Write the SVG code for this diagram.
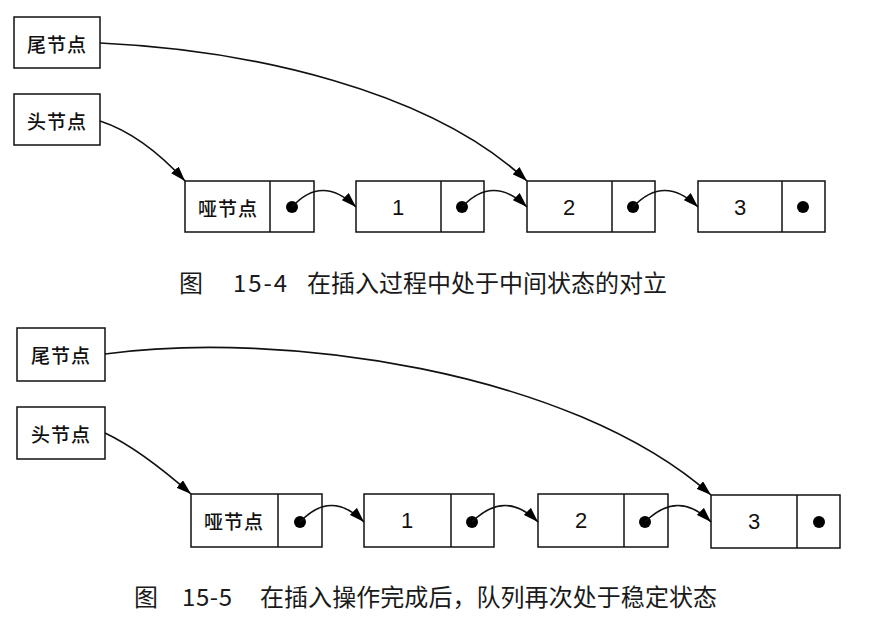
<svg xmlns="http://www.w3.org/2000/svg" width="883" height="624" viewBox="0 0 883 624">
<style>
.box{fill:#fff;stroke:#111;stroke-width:1.5}
.div{stroke:#111;stroke-width:1.5}
.lbl{font-family:"Noto Sans CJK SC","Noto Sans",sans-serif;font-size:19px;font-weight:500;fill:#111;text-anchor:middle;dominant-baseline:central;letter-spacing:1px}
.num{font-family:"Liberation Sans",Arial,sans-serif;font-size:22px;fill:#111;text-anchor:middle;dominant-baseline:central}
.dot{fill:#000}
.con{fill:none;stroke:#111;stroke-width:1.6}
.cap{font-family:"Noto Sans CJK SC","Noto Sans",sans-serif;font-size:24px;fill:#1a1a1a}
</style>
<defs>
<marker id="ah" markerUnits="userSpaceOnUse" markerWidth="15" markerHeight="10" refX="15" refY="5" orient="auto">
<path d="M0,0 L15,5 L0,10 z" fill="#000"/>
</marker>
</defs>
<rect width="883" height="624" fill="#fff"/>

<!-- Figure 15-4 -->
<g id="tail1"><rect class="box" x="14" y="17" width="86" height="51"/><text class="lbl" x="57" y="43">尾节点</text></g>
<g id="head1"><rect class="box" x="14" y="94" width="86" height="51"/><text class="lbl" x="57" y="120">头节点</text></g>
<g id="dummy1"><rect class="box" x="185" y="181" width="129" height="51"/><line class="div" x1="270" y1="181" x2="270" y2="232"/><text class="lbl" x="228" y="207">哑节点</text><circle class="dot" cx="292" cy="207" r="6"/></g>
<g id="n1a"><rect class="box" x="356" y="181" width="128" height="51"/><line class="div" x1="441" y1="181" x2="441" y2="232"/><text class="num" x="398" y="207">1</text><circle class="dot" cx="462" cy="207" r="6"/></g>
<g id="n2a"><rect class="box" x="527" y="181" width="128" height="51"/><line class="div" x1="612" y1="181" x2="612" y2="232"/><text class="num" x="569" y="207">2</text><circle class="dot" cx="633" cy="207" r="6"/></g>
<g id="n3a"><rect class="box" x="698" y="181" width="127" height="51"/><line class="div" x1="782" y1="181" x2="782" y2="232"/><text class="num" x="740" y="207">3</text><circle class="dot" cx="803" cy="207" r="6"/></g>
<g id="connectors1">
<path class="con" d="M100,43 C250,50 430,90 527,181" marker-end="url(#ah)"/>
<path class="con" d="M100,121 Q143,135 185,181" marker-end="url(#ah)"/>
<path class="con" d="M292,207 Q322,174 356,207" marker-end="url(#ah)"/>
<path class="con" d="M462,207 Q493,174 527,207" marker-end="url(#ah)"/>
<path class="con" d="M633,207 Q664,174 698,207" marker-end="url(#ah)"/>
</g>
<g id="caption1">
<text class="cap" x="179" y="292">图</text>
<text class="cap" x="233" y="292" textLength="54">15-4</text>
<text class="cap" x="307" y="292" textLength="360">在插入过程中处于中间状态的对立</text>
</g>

<!-- Figure 15-5 -->
<g id="tail2"><rect class="box" x="17" y="328" width="88" height="53"/><text class="lbl" x="61" y="354">尾节点</text></g>
<g id="head2"><rect class="box" x="17" y="407" width="88" height="52"/><text class="lbl" x="61" y="433">头节点</text></g>
<g id="dummy2"><rect class="box" x="191" y="494" width="131" height="53"/><line class="div" x1="278" y1="494" x2="278" y2="547"/><text class="lbl" x="234" y="520">哑节点</text><circle class="dot" cx="300" cy="522" r="6"/></g>
<g id="n1b"><rect class="box" x="364" y="494" width="130" height="53"/><line class="div" x1="451" y1="494" x2="451" y2="547"/><text class="num" x="407" y="520">1</text><circle class="dot" cx="472" cy="522" r="6"/></g>
<g id="n2b"><rect class="box" x="538" y="494" width="130" height="53"/><line class="div" x1="624" y1="494" x2="624" y2="547"/><text class="num" x="581" y="520">2</text><circle class="dot" cx="645" cy="522" r="6"/></g>
<g id="n3b"><rect class="box" x="711" y="495" width="129" height="53"/><line class="div" x1="797" y1="495" x2="797" y2="548"/><text class="num" x="754" y="521">3</text><circle class="dot" cx="819" cy="522" r="6"/></g>
<g id="connectors2">
<path class="con" d="M105,354 C280,330 570,370 711,495" marker-end="url(#ah)"/>
<path class="con" d="M105,433 Q141,450 191,494" marker-end="url(#ah)"/>
<path class="con" d="M300,522 Q331,489 364,522" marker-end="url(#ah)"/>
<path class="con" d="M472,522 Q505,489 538,522" marker-end="url(#ah)"/>
<path class="con" d="M645,522 Q678,489 711,522" marker-end="url(#ah)"/>
</g>
<g id="caption2">
<text class="cap" x="134" y="606">图</text>
<text class="cap" x="182" y="606" textLength="50">15-5</text>
<text class="cap" x="260" y="606" textLength="457">在插入操作完成后，队列再次处于稳定状态</text>
</g>
</svg>
